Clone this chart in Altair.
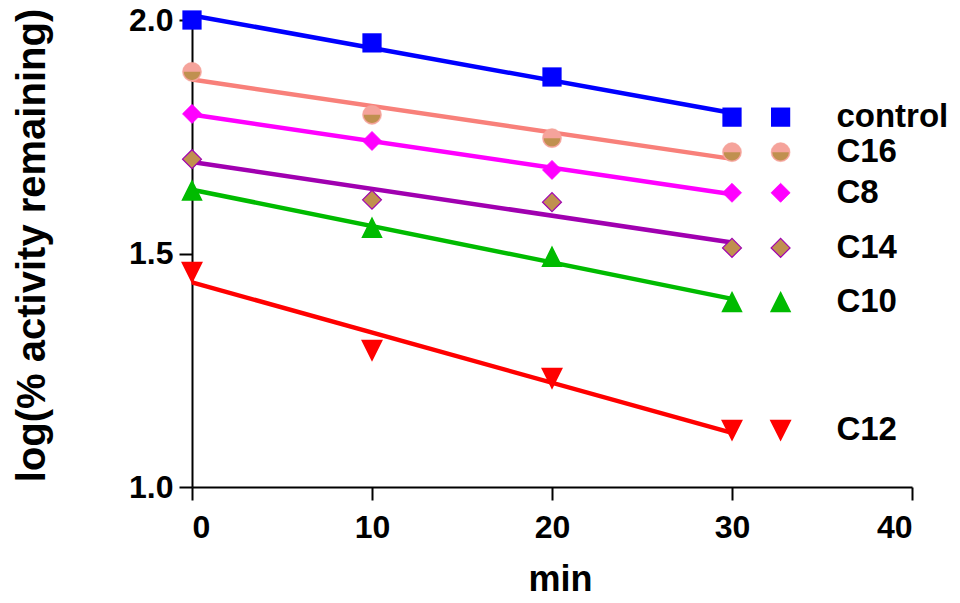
import altair as alt
import pandas as pd

# ---- data ----
times = [0, 10, 20, 30]
series_names = ["control", "C16", "C8", "C14", "C10", "C12"]
control = [2.000, 1.951, 1.878, 1.792]
c16 = [1.889, 1.797, 1.747, 1.717]
c8 = [1.799, 1.741, 1.679, 1.630]
c14 = [1.702, 1.615, 1.610, 1.512]
c10 = [1.635, 1.555, 1.493, 1.396]
c12 = [1.460, 1.293, 1.233, 1.122]
all_values = [control, c16, c8, c14, c10, c12]

x_ticks = [0, 10, 20, 30, 40]
y_ticks = [1.0, 1.5, 2.0]

# ---- styles ----
line_colors = ["#0000ff", "#f8807a", "#ff00ff", "#a000b0", "#00bb00", "#ff0000"]
fill_colors = ["#0000ff", "#f5a39b", "#ff00ff", "#c0904f", "#00bb00", "#ff0000"]
stroke_colors = ["#0000ff", "#f5a39b", "#ff00ff", "#a000b0", "#00bb00", "#ff0000"]
stroke_widths = [0, 2, 0, 2, 0, 0]
shapes = ["square", "circle", "diamond", "diamond",
          "M0,-1L1,1L-1,1Z", "M0,1L1,-1L-1,-1Z"]
sizes = [370, 350, 310, 340, 390, 380]
half_path = "M-1,0A1,1,0,0,0,1,0Z"
half_color = "#c0904f"
legend_x = 32.7
label_x = 35.8
FONT = "Liberation Sans"

rows = []
for name, vals in zip(series_names, all_values):
    for t, v in zip(times, vals):
        rows.append({"series": name, "min": t, "value": v, "kind": "data"})
    rows.append({"series": name, "min": legend_x, "value": vals[-1], "kind": "legend"})
    rows.append({"series": name, "min": label_x, "value": vals[-1], "kind": "label"})
df = pd.DataFrame(rows)

x_enc = alt.X("min:Q",
              scale=alt.Scale(domain=[0, 40], nice=False, zero=False),
              axis=alt.Axis(values=x_ticks, title="min", format="d",
                            titleX=368, titleY=92, titleBaseline="middle",
                            titleAlign="center", titleFontSize=36,
                            labelPadding=12))
y_enc = alt.Y("value:Q",
              scale=alt.Scale(domain=[1.0, 2.0043], nice=False, zero=False),
              axis=alt.Axis(values=y_ticks, format=".1f",
                            title="log(% activity remaining)",
                            titleX=-160, titleY=227, titleAngle=270,
                            titleAlign="center", titleBaseline="middle",
                            titleFontSize=40, labelPadding=6))

sdom = series_names
color_line = alt.Color("series:N", scale=alt.Scale(domain=sdom, range=line_colors), legend=None)
fill_enc = alt.Fill("series:N", scale=alt.Scale(domain=sdom, range=fill_colors), legend=None)
stroke_enc = alt.Stroke("series:N", scale=alt.Scale(domain=sdom, range=stroke_colors), legend=None)
sw_enc = alt.StrokeWidth("series:N", scale=alt.Scale(domain=sdom, range=stroke_widths), legend=None)
shape_enc = alt.Shape("series:N", scale=alt.Scale(domain=sdom, range=shapes), legend=None)
size_enc = alt.Size("series:N", scale=alt.Scale(domain=sdom, range=sizes), legend=None)

base = alt.Chart(df)

lines = base.transform_filter(alt.datum.kind == "data").transform_regression(
    "min", "value", groupby=["series"], extent=[0, 30]
).mark_line(strokeWidth=4.5).encode(x=x_enc, y=y_enc, color=color_line)

points = base.transform_filter(alt.datum.kind != "label").mark_point(
    filled=True, opacity=1
).encode(x=x_enc, y=y_enc, fill=fill_enc, stroke=stroke_enc,
         strokeWidth=sw_enc, shape=shape_enc, size=size_enc)

half = base.transform_filter(
    (alt.datum.kind != "label") & (alt.datum.series == "C16")
).mark_point(filled=True, opacity=1).encode(
    x=x_enc, y=y_enc, shape=alt.value(half_path), fill=alt.value(half_color),
    size=alt.value(270))

labels = base.transform_filter(alt.datum.kind == "label").mark_text(
    align="left", baseline="middle", font=FONT, fontSize=33,
    fontWeight="bold", color="black"
).encode(x=x_enc, y=y_enc, text="series:N")

chart = alt.layer(lines, points, half, labels).properties(
    width=720, height=469,
    autosize=alt.AutoSizeParams(type="none"),
    padding={"left": 184, "top": 10, "right": 40, "bottom": 110},
).configure_view(stroke=None).configure_axis(
    grid=False, domainColor="black", domainWidth=2, tickColor="black",
    tickWidth=2, tickSize=13, labelFont=FONT, labelFontSize=32,
    labelFontWeight="bold", labelColor="black", titleFont=FONT,
    titleFontWeight="bold", titleColor="black",
)

chart.save("out.html", embed_options={"renderer": "svg", "actions": False})
